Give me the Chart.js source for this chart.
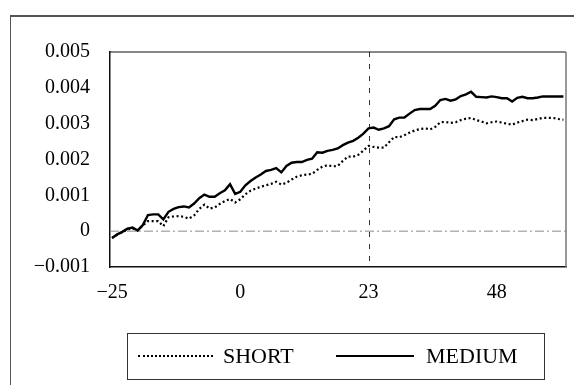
<!DOCTYPE html>
<html>
<head>
<meta charset="utf-8">
<script src="https://cdn.jsdelivr.net/npm/chart.js@4"></script>
<style>
  html, body { margin: 0; padding: 0; background: #fff; }
  #wrap { position: relative; width: 574px; height: 385px; overflow: hidden; }
  #frame { position: absolute; left: 10px; top: 15px; width: 580px; height: 400px;
           border-top: 2px solid #555; border-left: 1.5px solid #555; }
  canvas { position: absolute; left: 0; top: 0; }
  #legend { position: absolute; left: 127px; top: 333px; width: 416px; height: 45px;
            border: 1px solid #333; font-family: "Liberation Serif", "Times New Roman", serif;
            font-size: 22px; color: #000; }
  .sample { position: absolute; top: 21px; height: 0; }
  .ltxt { position: absolute; top: 9px; line-height: 26px; white-space: nowrap; }
</style>
</head>
<body>
<div id="wrap">
  <div id="frame"></div>
  <canvas id="c" width="574" height="385"></canvas>
  <div id="legend"></div>
</div>
<script>
// ---- data ----
const seriesNames = ['SHORT', 'MEDIUM'];
const tickPositions = [0, 25, 50, 75];          // observation index of each labelled tick
const tickLabels = ['\u221225', '0', '23', '48'];
const eventIndex = 50;                          // dashed vertical marker (day 23)
const yTickValues = [-0.001, 0, 0.001, 0.002, 0.003, 0.004, 0.005];

const shortValues = [
  -0.00019, -0.00010, -0.00003, 0.00005, 0.00008, 0.00002, 0.00016, 0.00028, 0.00028, 0.00028,
  0.00014, 0.00039, 0.00041, 0.00042, 0.00040, 0.00035, 0.00044, 0.00062, 0.00074, 0.00063,
  0.00066, 0.00076, 0.00084, 0.00090, 0.00080, 0.00089, 0.00103, 0.00113, 0.00119, 0.00124,
  0.00128, 0.00132, 0.00138, 0.00130, 0.00135, 0.00144, 0.00152, 0.00156, 0.00158, 0.00160,
  0.00171, 0.00180, 0.00184, 0.00181, 0.00182, 0.00196, 0.00208, 0.00208, 0.00213, 0.00225,
  0.00238, 0.00235, 0.00233, 0.00233, 0.00248, 0.00263, 0.00262, 0.00268, 0.00275, 0.00281,
  0.00285, 0.00287, 0.00284, 0.00291, 0.00304, 0.00305, 0.00302, 0.00304, 0.00310, 0.00314,
  0.00316, 0.00310, 0.00306, 0.00301, 0.00304, 0.00306, 0.00303, 0.00300, 0.00297, 0.00303,
  0.00307, 0.00311, 0.00310, 0.00313, 0.00316, 0.00316, 0.00316, 0.00313, 0.00311
];
const mediumValues = [
  -0.00019, -0.00009, -0.00002, 0.00007, 0.00010, 0.00002, 0.00017, 0.00045, 0.00047, 0.00047,
  0.00033, 0.00054, 0.00062, 0.00067, 0.00069, 0.00066, 0.00077, 0.00092, 0.00102, 0.00096,
  0.00096, 0.00106, 0.00114, 0.00131, 0.00104, 0.00110, 0.00128, 0.00140, 0.00150, 0.00158,
  0.00168, 0.00171, 0.00176, 0.00164, 0.00182, 0.00191, 0.00193, 0.00193, 0.00199, 0.00202,
  0.00220, 0.00219, 0.00224, 0.00227, 0.00231, 0.00240, 0.00247, 0.00252, 0.00261, 0.00272,
  0.00287, 0.00289, 0.00283, 0.00287, 0.00293, 0.00312, 0.00317, 0.00317, 0.00328, 0.00338,
  0.00341, 0.00341, 0.00341, 0.00350, 0.00366, 0.00369, 0.00364, 0.00368, 0.00377, 0.00382,
  0.00389, 0.00375, 0.00374, 0.00373, 0.00376, 0.00374, 0.00371, 0.00371, 0.00362, 0.00372,
  0.00375, 0.00371, 0.00371, 0.00373, 0.00376, 0.00376, 0.00376, 0.00376, 0.00376
];

// ---- chart ----
const FONT = '"Liberation Serif", "Times New Roman", serif';
const toPoints = arr => arr.map((v, i) => ({ x: i, y: v }));

const framePlugin = {
  id: 'framePlugin',
  beforeDatasetsDraw(chart) {
    const { ctx, chartArea: a, scales: { x, y } } = chart;
    ctx.save();
    // zero line
    const y0 = y.getPixelForValue(0);
    ctx.strokeStyle = '#8a8a8a';
    ctx.lineWidth = 1;
    ctx.setLineDash([9, 3, 2, 3]);
    ctx.beginPath(); ctx.moveTo(a.left, y0); ctx.lineTo(a.right, y0); ctx.stroke();
    // event marker
    const xe = Math.round(x.getPixelForValue(eventIndex)) + 0.5;
    ctx.strokeStyle = '#333';
    ctx.setLineDash([5, 7]);
    ctx.beginPath(); ctx.moveTo(xe, a.top); ctx.lineTo(xe, a.bottom); ctx.stroke();
    ctx.setLineDash([]);
    // top border
    ctx.strokeStyle = '#111';
    ctx.lineWidth = 1.2;
    ctx.beginPath(); ctx.moveTo(a.left, a.top); ctx.lineTo(a.right, a.top); ctx.stroke();
    // right border
    ctx.strokeStyle = '#777';
    ctx.lineWidth = 1.5;
    ctx.beginPath(); ctx.moveTo(a.right, a.top); ctx.lineTo(a.right, a.bottom); ctx.stroke();
    ctx.restore();
  }
};

const chart = new Chart(document.getElementById('c'), {
  type: 'line',
  data: {
    datasets: [
      { label: seriesNames[0], data: toPoints(shortValues), borderColor: '#000',
        borderWidth: 2.2, borderDash: [2, 2.6], pointRadius: 0, tension: 0, fill: false },
      { label: seriesNames[1], data: toPoints(mediumValues), borderColor: '#000',
        borderWidth: 2.4, pointRadius: 0, tension: 0, fill: false }
    ]
  },
  options: {
    responsive: false,
    animation: false,
    layout: { padding: { top: 52, right: 8, left: 0, bottom: 0 } },
    plugins: { legend: { display: false }, tooltip: { enabled: false } },
    scales: {
      x: {
        type: 'linear', min: -0.4, max: 88.5,
        afterFit(s) { s.height = 118; },
        afterBuildTicks(s) { s.ticks = tickPositions.map(v => ({ value: v })); },
        grid: { display: false, drawTicks: false },
        border: { display: true, color: '#111', width: 1.5 },
        ticks: {
          padding: 14, color: '#000', maxRotation: 0, autoSkip: false,
          font: { family: FONT, size: 20 },
          callback: v => tickLabels[tickPositions.indexOf(v)]
        }
      },
      y: {
        min: -0.001, max: 0.005,
        afterFit(s) { s.width = 110; },
        afterBuildTicks(s) { s.ticks = yTickValues.map(v => ({ value: v })); },
        grid: { display: false, drawTicks: false },
        border: { display: true, color: '#111', width: 1.5 },
        ticks: {
          padding: 20, color: '#000',
          font: { family: FONT, size: 20 },
          callback: v => {
            if (Math.abs(v) < 1e-12) return '0';
            const s = Math.abs(v).toFixed(3);
            return v < 0 ? '\u2212' + s : s;
          }
        }
      }
    }
  },
  plugins: [framePlugin]
});

// ---- legend (HTML, built from dataset labels) ----
const legend = document.getElementById('legend');
const layoutL = [
  { sx: 10, sw: 75, tx: 95, style: '2px dotted #000' },
  { sx: 208, sw: 78, tx: 298, style: '2px solid #000' }
];
chart.data.datasets.forEach((ds, i) => {
  const s = document.createElement('div');
  s.className = 'sample';
  s.style.left = layoutL[i].sx + 'px';
  s.style.width = layoutL[i].sw + 'px';
  s.style.borderTop = layoutL[i].style;
  legend.appendChild(s);
  const t = document.createElement('div');
  t.className = 'ltxt';
  t.style.left = layoutL[i].tx + 'px';
  t.textContent = ds.label;
  legend.appendChild(t);
});
</script>
</body>
</html>
